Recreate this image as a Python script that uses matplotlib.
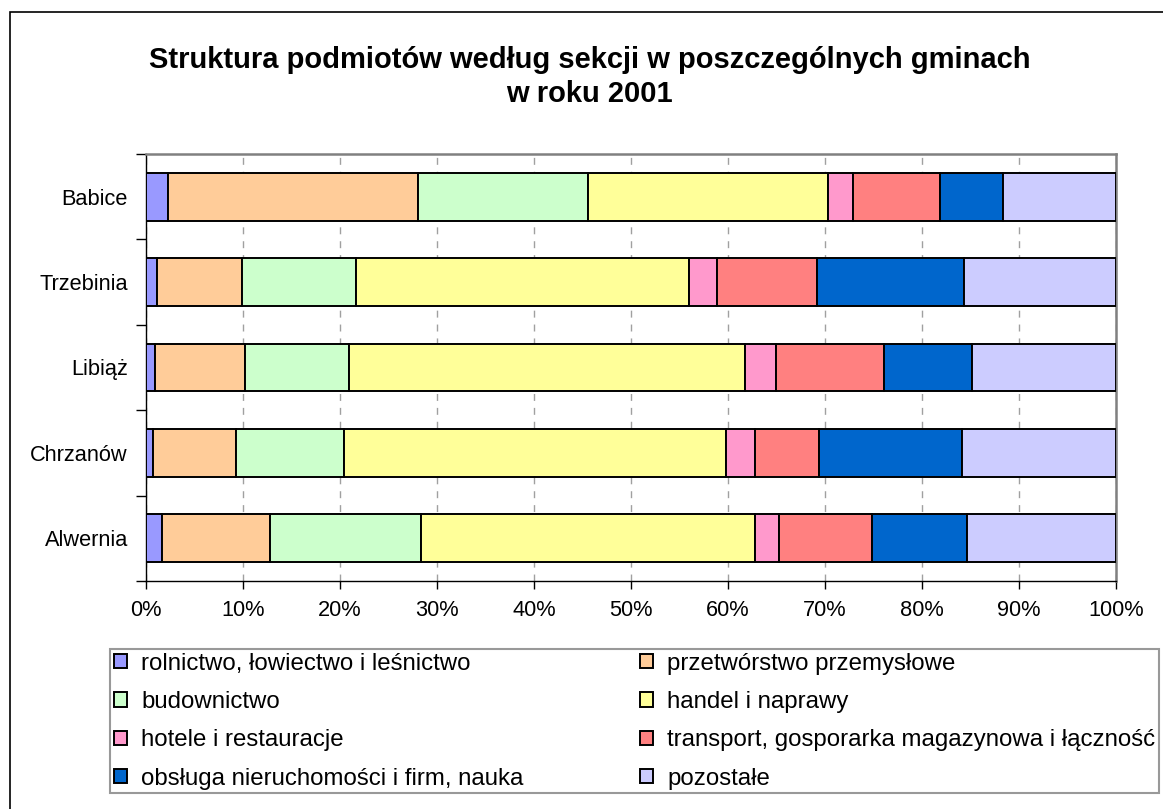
import numpy as np
import matplotlib.pyplot as plt
from matplotlib.patches import Rectangle
from matplotlib.ticker import FixedLocator, PercentFormatter

plt.rcParams['font.family'] = ['Liberation Sans', 'DejaVu Sans']

# Gminy, bottom to top as drawn
gminy = ['Alwernia', 'Chrzanów', 'Libiąż', 'Trzebinia', 'Babice']

sekcje = ['rolnictwo, łowiectwo i leśnictwo', 'przetwórstwo przemysłowe',
          'budownictwo', 'handel i naprawy', 'hotele i restauracje',
          'transport, gosporarka magazynowa i łączność',
          'obsługa nieruchomości i firm, nauka', 'pozostałe']

kolory = ['#9999FF', '#FFCC99', '#CCFFCC', '#FFFF99', '#FF99CC',
          '#FF8080', '#0066CC', '#CCCCFF']

# shares in % per section, order of gminy above
rolnictwo = [1.6, 0.7, 0.9, 1.1, 2.25]
przetworstwo = [11.2, 8.6, 9.3, 8.75, 25.75]
budownictwo = [15.5, 11.1, 10.7, 11.75, 17.6]
handel = [34.45, 39.4, 40.9, 34.4, 24.7]
hotele = [2.55, 3.0, 3.1, 2.9, 2.6]
transport = [9.5, 6.6, 11.2, 10.3, 9.0]
obsluga = [9.8, 14.7, 9.1, 15.1, 6.5]
pozostale = [15.4, 15.9, 14.8, 15.7, 11.6]

dane = [rolnictwo, przetworstwo, budownictwo, handel, hotele,
        transport, obsluga, pozostale]

fig = plt.figure(figsize=(11.63, 8.09), dpi=100)
ax = fig.add_axes([146 / 1163, 1 - 581 / 809, (1116 - 146) / 1163, (581 - 154) / 809])

y = np.arange(len(gminy))
left = np.zeros(len(gminy))
bars = []
for vals, kolor, nazwa in zip(dane, kolory, sekcje):
    vals = np.array(vals, dtype=float)
    b = ax.barh(y, vals, left=left, height=0.56, color=kolor,
                edgecolor='black', linewidth=1.4, label=nazwa, zorder=3)
    bars.append(b)
    left += vals

ax.set_xlim(0, 100)
ax.set_ylim(-0.5, len(gminy) - 0.5)

ax.xaxis.set_major_locator(FixedLocator(np.arange(0, 101, 10)))
ax.xaxis.set_major_formatter(PercentFormatter(decimals=0))
ax.set_yticks(y)
ax.set_yticklabels(gminy)
ax.yaxis.set_minor_locator(FixedLocator(np.arange(-0.5, len(gminy), 1)))

ax.tick_params(axis='x', direction='out', length=6, width=1, pad=8,
               labelsize=15.7, colors='black')
ax.tick_params(axis='y', which='major', length=0, pad=13, labelsize=15.7)
ax.tick_params(axis='y', which='minor', direction='out', length=7, width=1)

ax.grid(axis='x', color='#A0A0A0', linestyle=(0, (5, 5)), linewidth=1, zorder=0)
ax.set_axisbelow(True)

for s in ['left', 'bottom']:
    ax.spines[s].set_color('black')
    ax.spines[s].set_linewidth(1)
for s in ['top', 'right']:
    ax.spines[s].set_color('#808080')
    ax.spines[s].set_linewidth(1.8)

fig.text(0.507, 1 - 77 / 809,
         'Struktura podmiotów według sekcji w poszczególnych gminach\nw roku 2001',
         ha='center', va='center', fontsize=21, fontweight='bold', linespacing=1.3)

# legend filled row by row like in the original
order = [0, 2, 4, 6, 1, 3, 5, 7]
leg = fig.legend([bars[i] for i in order], [sekcje[i] for i in order],
                 ncol=2, loc='upper left', mode='expand',
                 bbox_to_anchor=(110 / 1163, 1 - 649 / 809, (1159 - 110) / 1163, 0),
                 fontsize=17.3, frameon=True, fancybox=False, edgecolor='#808080',
                 handlelength=0.55, handleheight=0.55, handletextpad=0.6,
                 labelspacing=0.68, borderpad=0.15, borderaxespad=0)
leg.get_frame().set_linewidth(1.5)

# outer chart border (image is cropped on the right and bottom)
fig.patches.append(Rectangle((10 / 1163, -0.1), 1.5, 1 - 12 / 809 + 0.1,
                             transform=fig.transFigure, fill=False,
                             edgecolor='black', linewidth=1.2))

fig.savefig('out.png', dpi=100)
